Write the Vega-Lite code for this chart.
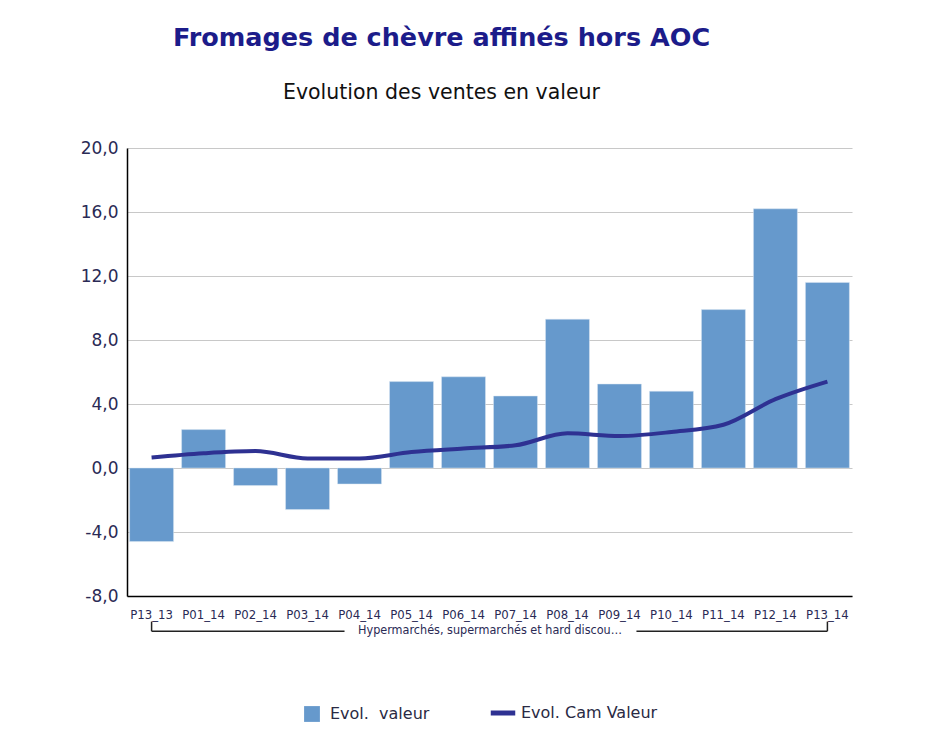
{
  "$schema": "https://vega.github.io/schema/vega-lite/v6.json",
  "width": 725,
  "height": 448,
  "autosize": {"type": "none"},
  "padding": {"left": 127, "top": 148, "right": 74, "bottom": 157},
  "background": "white",
  "title": {
    "text": "Fromages de chèvre affinés hors AOC",
    "subtitle": "Evolution des ventes en valeur",
    "anchor": "middle",
    "dx": -48,
    "font": "DejaVu Sans",
    "fontSize": 25.5,
    "fontWeight": "bold",
    "color": "#1c1c8a",
    "subtitleFont": "DejaVu Sans",
    "subtitleFontSize": 20.5,
    "subtitleColor": "#111111",
    "subtitlePadding": 31,
    "offset": 36
  },
  "data": {
    "values": [
      {"P": "P13_13", "val": -4.6, "cam": 0.65},
      {"P": "P01_14", "val": 2.4, "cam": 0.92},
      {"P": "P02_14", "val": -1.1, "cam": 1.06},
      {"P": "P03_14", "val": -2.6, "cam": 0.6},
      {"P": "P04_14", "val": -1.0, "cam": 0.6},
      {"P": "P05_14", "val": 5.4, "cam": 1.0},
      {"P": "P06_14", "val": 5.7, "cam": 1.22},
      {"P": "P07_14", "val": 4.5, "cam": 1.42},
      {"P": "P08_14", "val": 9.3, "cam": 2.17},
      {"P": "P09_14", "val": 5.25, "cam": 2.0},
      {"P": "P10_14", "val": 4.8, "cam": 2.25},
      {"P": "P11_14", "val": 9.9, "cam": 2.7},
      {"P": "P12_14", "val": 16.2, "cam": 4.3},
      {"P": "P13_14", "val": 11.6, "cam": 5.4}
    ]
  },
  "encoding": {
    "x": {
      "field": "P",
      "type": "nominal",
      "sort": null,
      "scale": {"paddingInner": 0.154, "paddingOuter": 0.05},
      "axis": {
        "title": "Hypermarchés, supermarchés et hard discou…",
        "titleFont": "DejaVu Sans Condensed",
        "titleFontSize": 12.5,
        "titleFontWeight": "normal",
        "titleColor": "#2a2a55",
        "titlePadding": 2,
        "labelAngle": 0,
        "labelFont": "DejaVu Sans Condensed",
        "labelFontSize": 13,
        "labelColor": "#2a2a55",
        "labelPadding": 12,
        "ticks": false,
        "domainColor": "#000000",
        "domainWidth": 1.5,
        "grid": false
      }
    }
  },
  "layer": [
    {
      "mark": {"type": "bar", "stroke": "#dbe6f3", "strokeWidth": 0.5},
      "encoding": {
        "y": {
          "field": "val",
          "type": "quantitative",
          "scale": {"domain": [-8, 20], "nice": false},
          "axis": {
            "title": null,
            "values": [-8, -4, 0, 4, 8, 12, 16, 20],
            "labelExpr": "replace(replace(format(datum.value, '.1f'), '.', ','), '−', '-')",
            "labelFont": "DejaVu Sans",
            "labelFontSize": 17,
            "labelColor": "#2a2a55",
            "labelPadding": 9,
            "ticks": false,
            "domainColor": "#000000",
            "domainWidth": 1.5,
            "gridColor": "#c8c8c8",
            "gridWidth": 1.2
          }
        },
        "fill": {
          "datum": "Evol.  valeur",
          "type": "nominal",
          "scale": {"domain": ["Evol.  valeur"], "range": ["#6699cc"]},
          "legend": {
            "orient": "none",
            "legendX": 177,
            "legendY": 558,
            "title": null,
            "labelFont": "DejaVu Sans",
            "labelFontSize": 16,
            "labelColor": "#2a2a44",
            "labelOffset": 10,
            "symbolType": "square",
            "symbolSize": 250,
            "symbolStrokeWidth": 0,
            "labelExpr": "replace(datum.label, '.  ', '.\u00a0 ')"
          }
        }
      }
    },
    {
      "mark": {"type": "line", "strokeWidth": 4, "interpolate": "monotone"},
      "encoding": {
        "y": {"field": "cam", "type": "quantitative"},
        "stroke": {
          "datum": "Evol. Cam Valeur",
          "type": "nominal",
          "scale": {"domain": ["Evol. Cam Valeur"], "range": ["#2e3192"]},
          "legend": {
            "orient": "none",
            "legendX": 361,
            "legendY": 550,
            "title": null,
            "labelFont": "DejaVu Sans",
            "labelFontSize": 16,
            "labelColor": "#2a2a44",
            "labelOffset": 3,
            "symbolType": "stroke",
            "symbolSize": 600,
            "symbolStrokeWidth": 5
          }
        }
      }
    },
    {
      "data": {"values": [{}]},
      "mark": {"type": "rule", "color": "#222222", "strokeWidth": 1.5, "x2Offset": -15},
      "encoding": {
        "x": {"datum": "P13_13", "type": "nominal", "bandPosition": 0.5},
        "x2": {"datum": "P04_14", "bandPosition": 0.5},
        "y": {"datum": -10.2}
      }
    },
    {
      "data": {"values": [{}]},
      "mark": {"type": "rule", "color": "#222222", "strokeWidth": 1.5, "xOffset": -35},
      "encoding": {
        "x": {"datum": "P10_14", "type": "nominal", "bandPosition": 0.5},
        "x2": {"datum": "P13_14", "bandPosition": 0.5},
        "y": {"datum": -10.2}
      }
    },
    {
      "data": {"values": [{}]},
      "mark": {"type": "rule", "color": "#222222", "strokeWidth": 1.5},
      "encoding": {
        "x": {"datum": "P13_13", "type": "nominal", "bandPosition": 0.5},
        "y": {"datum": -10.2},
        "y2": {"datum": -9.6}
      }
    },
    {
      "data": {"values": [{}]},
      "mark": {"type": "rule", "color": "#222222", "strokeWidth": 1.5},
      "encoding": {
        "x": {"datum": "P13_14", "type": "nominal", "bandPosition": 0.5},
        "y": {"datum": -10.2},
        "y2": {"datum": -9.6}
      }
    }
  ],
  "config": {
    "view": {"stroke": null},
    "font": "DejaVu Sans"
  }
}
